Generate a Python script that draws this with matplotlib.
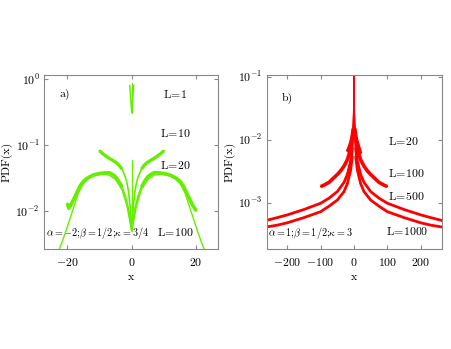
import numpy as np
import matplotlib as mpl
mpl.use('Agg')
import matplotlib.pyplot as plt

plt.rcParams['font.family'] = 'serif'
plt.rcParams['font.serif'] = ['cmr10', 'DejaVu Serif']
plt.rcParams['mathtext.fontset'] = 'cm'
plt.rcParams['axes.formatter.use_mathtext'] = True
plt.rcParams['axes.unicode_minus'] = True

######################
## data, panel a
######################

# L=1 : narrow V at the origin
a_L1_x = [-0.6, -0.3, 0.0, 0.3, 0.6]
a_L1_y = [0.80, 0.50, 0.31, 0.50, 0.80]
a_spike1_x = [0.0, 0.0]
a_spike1_y = [0.31, 0.88]

# L=10
a_L10_x = [-10, -9, -8, -7, -6, -5, -4, -3, -2, -1.5, -1, -0.5, 0,
           0.5, 1, 1.5, 2, 3, 4, 5, 6, 7, 8, 9, 10]
a_L10_y = [0.082, 0.074, 0.068, 0.063, 0.059, 0.055, 0.050, 0.043, 0.033, 0.027, 0.020, 0.012, 0.0055,
           0.012, 0.020, 0.027, 0.033, 0.043, 0.050, 0.055, 0.059, 0.063, 0.068, 0.074, 0.082]

# L=20
a_L20_x = [-20, -19.5, -19, -18, -17, -16, -15, -14, -12, -10, -8, -7, -6, -5, -4, -3, -2, -1, -0.5, 0,
           0.5, 1, 2, 3, 4, 5, 6, 7, 8, 10, 12, 14, 15, 16, 17, 18, 19, 19.5, 20]
a_L20_y = [0.013, 0.011, 0.012, 0.015, 0.019, 0.024, 0.028, 0.031, 0.035, 0.037, 0.038, 0.038, 0.036, 0.033, 0.028, 0.023, 0.017, 0.011, 0.0075, 0.005,
           0.0075, 0.011, 0.017, 0.023, 0.028, 0.033, 0.036, 0.038, 0.038, 0.037, 0.035, 0.031, 0.028, 0.024, 0.019, 0.015, 0.012, 0.011, 0.010]

# L=100
a_L100_x = [-22.5, -21.5, -20.5, -19.5, -18.5, -17.5, -16.5, -15, -13, -11, -9, -7, -5, -3, -1.5, 0,
            1.5, 3, 5, 7, 9, 11, 13, 15, 16.5, 17.5, 18.5, 19.5, 20.5, 21.5, 22.5]
a_L100_y = [0.0026, 0.0035, 0.0048, 0.0068, 0.0095, 0.0135, 0.0190, 0.026, 0.032, 0.035, 0.036, 0.035, 0.030, 0.021, 0.012, 0.005,
            0.012, 0.021, 0.030, 0.035, 0.036, 0.035, 0.032, 0.026, 0.0190, 0.0135, 0.0095, 0.0068, 0.0048, 0.0035, 0.0026]
a_spike_x = [0.0, 0.0]
a_spike_y = [0.005, 0.059]

######################
## data, panel b
######################

b_L20_x = [-20, -15, -10, -7, -5, -3, -2, -1, -0.3, 0, 0.3, 1, 2, 3, 5, 7, 10, 15, 20]
b_L20_y = [0.0065, 0.0075, 0.0090, 0.0105, 0.0120, 0.0150, 0.018, 0.025, 0.05, 0.11,
           0.05, 0.025, 0.018, 0.0150, 0.0120, 0.0105, 0.0090, 0.0075, 0.0060]

b_L100_x = [-100, -90, -75, -60, -50, -40, -30, -20, -15, -10, -5, -2, -0.5, 0,
            0.5, 2, 5, 10, 15, 20, 30, 40, 50, 60, 75, 90, 100]
b_L100_y = [0.0018, 0.0019, 0.0021, 0.0025, 0.0028, 0.0032, 0.0038, 0.0048, 0.0058, 0.0075, 0.011, 0.018, 0.04, 0.11,
            0.04, 0.018, 0.011, 0.0075, 0.0058, 0.0048, 0.0038, 0.0032, 0.0028, 0.0025, 0.0021, 0.0019, 0.0018]

b_L500_x = [-265, -230, -200, -150, -100, -75, -50, -30, -20, -10, -5, -2, -0.5, 0,
            0.5, 2, 5, 10, 20, 30, 50, 75, 100, 150, 200, 230, 265]
b_L500_y = [0.00052, 0.00058, 0.00064, 0.00078, 0.00098, 0.00118, 0.0015, 0.0021, 0.0028, 0.0046, 0.0075, 0.015, 0.035, 0.11,
            0.035, 0.015, 0.0075, 0.0046, 0.0028, 0.0021, 0.0015, 0.00118, 0.00098, 0.00078, 0.00064, 0.00058, 0.00052]

b_L1000_x = [-265, -230, -200, -150, -100, -75, -50, -30, -20, -10, -5, -2, -0.5, 0,
             0.5, 2, 5, 10, 20, 30, 50, 75, 100, 150, 200, 230, 265]
b_L1000_y = [0.00041, 0.00044, 0.00048, 0.00058, 0.00072, 0.00088, 0.0011, 0.0015, 0.0020, 0.0033, 0.0055, 0.012, 0.03, 0.11,
             0.03, 0.012, 0.0055, 0.0033, 0.0020, 0.0015, 0.0011, 0.00088, 0.00072, 0.00058, 0.00048, 0.00044, 0.00041]

######################
## setup plot
######################

green = '#66ee00'
red = '#ff0000'
frame = '#888888'
fs = 8.5

fig = plt.figure(figsize=(4.51, 3.49), dpi=100)
axa = fig.add_axes([0.0976, 0.2865, 0.386, 0.4985])
axb = fig.add_axes([0.5913, 0.2865, 0.388, 0.4985])

def style(ax):
    ax.set_yscale('log')
    for s in ax.spines.values():
        s.set_color(frame)
        s.set_linewidth(0.8)
    ax.tick_params(which='both', direction='in', color=frame, labelsize=fs, top=True, right=True)
    ax.tick_params(which='major', length=3)
    ax.tick_params(axis='x', pad=5)
    ax.tick_params(axis='y', pad=3)
    ax.yaxis.set_minor_locator(mpl.ticker.NullLocator())
    ax.set_xlabel('x', fontsize=fs, labelpad=3)
    ax.set_ylabel('PDF(x)', fontsize=fs, labelpad=2)

def band(ax, x, y, color, cut, lw_thin, lw_thick):
    # noisy histogram: thin in the middle, a thick band in the wings
    x = np.asarray(x, dtype=float)
    y = np.asarray(y, dtype=float)
    ax.plot(x, y, color=color, lw=lw_thin)
    left = x <= -cut
    right = x >= cut
    ax.plot(x[left], y[left], color=color, lw=lw_thick, solid_capstyle='butt')
    ax.plot(x[right], y[right], color=color, lw=lw_thick, solid_capstyle='butt')

def label(n):
    return r'$\mathrm{L}\!=\!' + str(n) + '$'

## panel a
style(axa)
axa.plot(a_L100_x, a_L100_y, color=green, lw=1.0)
band(axa, a_L20_x, a_L20_y, green, 3, 1.2, 2.6)
band(axa, a_L10_x, a_L10_y, green, 3, 1.2, 2.4)
axa.plot(a_spike_x, a_spike_y, color=green, lw=0.9)
axa.plot(a_L1_x, a_L1_y, color=green, lw=1.1)
axa.plot(a_spike1_x, a_spike1_y, color=green, lw=0.9)
axa.set_xlim(-27.2, 26.8)
axa.set_ylim(2.65e-3, 1.15)
axa.set_xticks([-20, 0, 20])
axa.set_yticks([1e-2, 1e-1, 1e0])

kw = dict(transform=axa.transAxes, ha='center', va='center', fontsize=fs, zorder=0)
axa.text(0.12, 0.89, 'a)', **kw)
axa.text(0.753, 0.89, label(1), **kw)
axa.text(0.753, 0.667, label(10), **kw)
axa.text(0.753, 0.483, label(20), **kw)
axa.text(0.755, 0.098, label(100), **kw)
kw['fontsize'] = 7.3
axa.text(0.31, 0.092, r'$\alpha{=}{-}2$;$\beta{=}1/2$;$\kappa{=}3/4$', **kw)

## panel b
style(axb)
band(axb, b_L1000_x, b_L1000_y, red, 5, 1.0, 2.0)
band(axb, b_L500_x, b_L500_y, red, 5, 1.0, 2.0)
band(axb, b_L100_x, b_L100_y, red, 5, 1.0, 2.6)
band(axb, b_L20_x, b_L20_y, red, 3, 1.0, 2.4)
axb.set_xlim(-262, 263)
axb.set_ylim(1.84e-4, 0.106)
axb.set_xticks([-200, -100, 0, 100, 200])
axb.set_yticks([1e-3, 1e-2, 1e-1])

kw = dict(transform=axb.transAxes, ha='center', va='center', fontsize=fs, zorder=0)
axb.text(0.116, 0.868, 'b)', **kw)
axb.text(0.779, 0.621, label(20), **kw)
axb.text(0.799, 0.437, label(100), **kw)
axb.text(0.799, 0.305, label(500), **kw)
axb.text(0.804, 0.103, label(1000), **kw)
kw['fontsize'] = 7.3
axb.text(0.25, 0.092, r'$\alpha{=}1$;$\beta{=}1/2$;$\kappa{=}3$', **kw)

plt.savefig('out.png', dpi=100)
